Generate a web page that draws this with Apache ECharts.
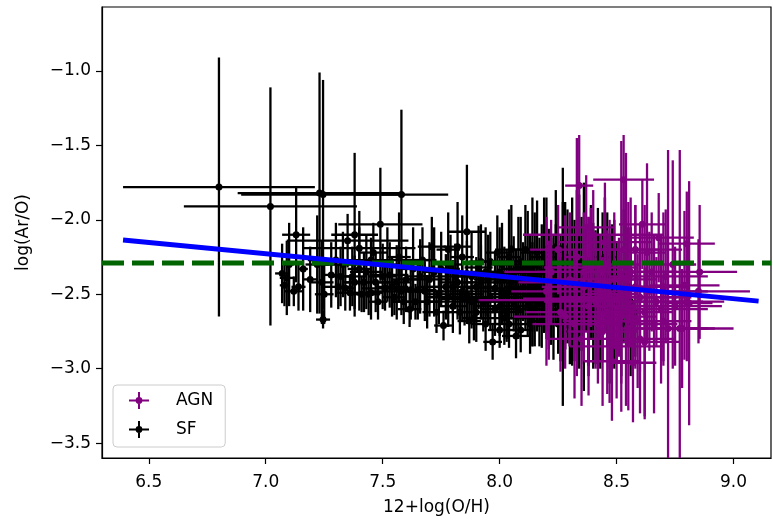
<!DOCTYPE html>
<html>
<head>
<meta charset="utf-8">
<script src="https://cdn.jsdelivr.net/npm/echarts@6/dist/echarts.min.js"></script>
<style>html,body{margin:0;padding:0;background:#fff}#c{width:773px;height:520px}</style>
</head>
<body>
<div id="c"></div>
<script>
// [x, y, xerr, yerr]
const sfData = [
[6.80,-1.78,0.41,0.87],[7.02,-1.91,0.37,0.80],[7.23,-1.82,0.35,0.81],[7.245,-1.83,0.35,0.77],
[7.58,-1.83,0.20,0.57],[7.13,-2.10,0.06,0.32],[7.38,-2.10,0.10,0.55],[7.49,-2.03,0.18,0.38],
[7.86,-2.08,0.08,0.45],[7.245,-2.67,0.03,0.06],[7.35,-2.14,0.26,0.18],[7.40,-2.19,0.24,0.25],
[7.45,-2.27,0.27,0.15],
[7.07,-2.36,0.03,0.20],[7.08,-2.44,0.02,0.14],[7.09,-2.39,0.03,0.25],[7.10,-2.30,0.02,0.28],
[7.12,-2.48,0.04,0.10],[7.14,-2.45,0.03,0.16],[7.16,-2.33,0.02,0.28],[7.19,-2.40,0.03,0.22],
[7.22,-2.30,0.05,0.33],[7.24,-2.42,0.05,0.28],[7.25,-2.50,0.04,0.20],[7.28,-2.37,0.04,0.22],
[7.30,-2.27,0.10,0.25],[7.32,-2.38,0.05,0.20],[7.34,-2.46,0.04,0.15],[7.36,-2.49,0.06,0.12],
[7.38,-2.42,0.05,0.18],[7.40,-2.33,0.05,0.28],[7.42,-2.42,0.08,0.20],[7.44,-2.50,0.05,0.14],
[7.45,-2.49,0.05,0.18],[7.46,-2.22,0.06,0.20],[7.48,-2.55,0.04,0.12],[7.50,-2.38,0.06,0.22],
[7.51,-2.46,0.10,0.15],[7.52,-2.30,0.05,0.25],[7.54,-2.45,0.07,0.20],[7.55,-2.52,0.05,0.12],
[7.57,-2.25,0.05,0.30],[7.58,-2.48,0.12,0.16],[7.60,-2.40,0.06,0.22],[7.615,-2.60,0.05,0.12],
[7.63,-2.33,0.05,0.28],[7.64,-2.55,0.10,0.12],[7.65,-2.47,0.08,0.20],[7.67,-2.27,0.06,0.22],
[7.69,-2.55,0.05,0.18],[7.70,-2.40,0.09,0.25],[7.72,-2.35,0.05,0.30],[7.73,-2.62,0.06,0.14],
[7.74,-2.50,0.06,0.20],[7.76,-2.71,0.04,0.10],[7.77,-2.45,0.07,0.22],[7.78,-2.20,0.05,0.25],
[7.79,-2.30,0.05,0.20],[7.80,-2.58,0.06,0.18],[7.81,-2.38,0.12,0.22],[7.82,-2.42,0.08,0.25],
[7.83,-2.62,0.05,0.15],[7.84,-2.25,0.05,0.28],[7.85,-2.53,0.10,0.18],[7.86,-2.50,0.07,0.20],
[7.87,-2.68,0.05,0.15],[7.88,-2.38,0.06,0.30],[7.89,-2.66,0.05,0.15],[7.90,-2.45,0.09,0.20],
[7.91,-2.32,0.06,0.28],[7.92,-2.28,0.05,0.25],[7.93,-2.55,0.07,0.20],[7.94,-2.70,0.06,0.18],
[7.95,-2.40,0.06,0.30],[7.96,-2.52,0.08,0.22],[7.97,-2.82,0.04,0.12],[7.98,-2.60,0.06,0.18],
[7.99,-2.22,0.05,0.25],[8.00,-2.74,0.05,0.12],[8.00,-2.35,0.08,0.30],[8.01,-2.48,0.06,0.22],
[8.02,-2.66,0.10,0.18],[8.03,-2.62,0.07,0.20],[8.04,-2.25,0.05,0.32],[8.05,-2.42,0.08,0.25],
[8.06,-2.55,0.06,0.20],[8.07,-2.78,0.06,0.15],[8.08,-2.33,0.07,0.35],[8.09,-2.74,0.05,0.15],
[8.10,-2.46,0.08,0.22],[8.11,-2.20,0.06,0.30],[8.12,-2.58,0.07,0.20],[8.13,-2.38,0.05,0.28],
[8.14,-2.65,0.06,0.20],[8.14,-2.35,0.05,0.50],[8.15,-2.30,0.08,0.35],[8.16,-2.50,0.06,0.25],
[8.17,-2.42,0.10,0.30],[8.18,-2.68,0.05,0.18],[8.19,-2.25,0.06,0.40],[8.20,-2.55,0.07,0.25],
[8.21,-2.36,0.05,0.30],[8.22,-2.62,0.06,0.22],[8.23,-2.45,0.08,0.35],[8.24,-2.18,0.05,0.38],
[8.25,-2.70,0.06,0.20],[8.26,-2.40,0.07,0.30],[8.27,-2.45,0.05,0.80],[8.28,-2.30,0.06,0.42],
[8.29,-2.48,0.08,0.25],[8.30,-2.62,0.05,0.35],[8.31,-2.35,0.06,0.50],[8.32,-2.75,0.04,0.20],
[8.33,-2.50,0.07,0.40],[8.34,-2.28,0.05,0.45],[8.35,-2.58,0.06,0.30],[8.36,-2.45,0.05,0.70],
[8.37,-2.40,0.08,0.35],[8.38,-2.65,0.05,0.40],[8.40,-2.32,0.06,0.30],[8.41,-2.52,0.07,0.45],
[8.42,-2.70,0.05,0.30],[8.44,-2.45,0.06,0.50],[8.45,-2.25,0.05,0.40],[8.47,-2.60,0.06,0.50],
[8.48,-2.38,0.05,0.35],[8.50,-2.55,0.06,0.40],[8.52,-2.70,0.05,0.35],[8.55,-2.45,0.06,0.40],
[8.58,-2.62,0.05,0.30],
[7.71,-2.18,0.06,0.20],[7.75,-2.33,0.08,0.25],[7.78,-2.52,0.10,0.20],[7.80,-2.45,0.15,0.18],
[7.82,-2.18,0.06,0.30],[7.84,-2.48,0.12,0.20],[7.86,-2.36,0.08,0.22],[7.88,-2.55,0.14,0.18],
[7.90,-2.62,0.08,0.20],[7.92,-2.42,0.10,0.25],[7.94,-2.35,0.07,0.30],[7.96,-2.28,0.06,0.20],
[7.98,-2.46,0.12,0.24],[8.00,-2.58,0.10,0.20],[8.01,-2.30,0.06,0.28],[8.02,-2.40,0.12,0.22],
[8.03,-2.50,0.08,0.30],[8.04,-2.70,0.06,0.16],[8.05,-2.20,0.07,0.30],[8.06,-2.36,0.10,0.25],
[8.07,-2.48,0.06,0.28],[8.08,-2.60,0.10,0.20],[8.09,-2.28,0.08,0.30],[8.10,-2.40,0.12,0.25],
[8.11,-2.52,0.07,0.22],[8.12,-2.32,0.06,0.38],[8.13,-2.70,0.08,0.20],[8.14,-2.45,0.12,0.30],
[8.15,-2.60,0.06,0.25],[8.16,-2.22,0.07,0.35],[8.17,-2.55,0.08,0.30],[8.18,-2.35,0.10,0.32],
[8.19,-2.48,0.06,0.28],[8.20,-2.30,0.08,0.45],[8.21,-2.62,0.10,0.25],[8.22,-2.42,0.06,0.30],
[8.23,-2.56,0.07,0.38],[8.24,-2.36,0.10,0.33],[8.25,-2.50,0.08,0.30],[8.26,-2.60,0.06,0.35],
[8.27,-2.28,0.08,0.40],[8.28,-2.52,0.10,0.35],[8.29,-2.38,0.06,0.45],[8.30,-2.45,0.08,0.40],
[8.31,-2.68,0.06,0.30],[8.32,-2.40,0.10,0.40],[8.33,-2.30,0.06,0.50],[8.34,-2.55,0.08,0.45],
[8.35,-2.38,0.06,0.40],[8.36,-2.62,0.07,0.35],[8.38,-2.48,0.06,0.50],[8.39,-2.35,0.08,0.45],
[8.40,-2.60,0.06,0.40],[8.42,-2.42,0.07,0.50],[8.43,-2.55,0.06,0.45],[8.46,-2.40,0.06,0.45],
[8.49,-2.50,0.05,0.50],[8.53,-2.38,0.06,0.45],[8.56,-2.55,0.05,0.50],
[7.31,-2.45,0.06,0.15],[7.33,-2.30,0.08,0.22],[7.37,-2.38,0.06,0.20],[7.41,-2.50,0.05,0.12],
[7.43,-2.35,0.07,0.25],[7.47,-2.42,0.06,0.20],[7.53,-2.37,0.08,0.22],[7.56,-2.42,0.06,0.25],
[7.59,-2.55,0.05,0.15],[7.62,-2.47,0.07,0.20],[7.66,-2.38,0.06,0.25],[7.68,-2.48,0.08,0.20]
];
const agnData = [
[8.34,-1.77,0.06,0.34],[8.53,-1.73,0.13,0.30],[8.33,-2.25,0.05,0.80],[8.52,-2.38,0.05,0.91],
[8.54,-2.40,0.04,0.85],[8.61,-2.03,0.10,0.30],[8.37,-2.05,0.12,0.35],[8.40,-2.10,0.30,0.30],
[8.68,-2.12,0.15,0.30],[8.80,-2.16,0.12,0.35],[8.855,-2.35,0.16,0.45],[8.21,-2.54,0.30,0.40],
[8.72,-2.73,0.20,1.20],[8.77,-2.73,0.12,1.20],[8.57,-2.96,0.10,0.40],[8.79,-2.44,0.15,0.50],
[8.81,-2.56,0.10,0.82],[8.85,-2.48,0.22,0.35],[8.80,-2.55,0.16,0.40],[8.78,-2.73,0.22,0.40],
[8.70,-2.68,0.12,0.30],[8.30,-2.53,0.20,0.30],[8.28,-2.65,0.22,0.35],[8.45,-2.30,0.15,0.45],
[8.47,-2.50,0.12,0.50],[8.42,-2.70,0.10,0.40],[8.58,-2.45,0.15,0.55],[8.62,-2.62,0.12,0.72],
[8.65,-2.35,0.10,0.40],[8.60,-2.80,0.15,0.50],[8.50,-2.85,0.20,0.35],[8.45,-2.15,0.20,0.40],
[8.30,-2.40,0.15,0.45],[8.25,-2.20,0.12,0.30],[8.20,-2.48,0.15,0.50],[8.38,-2.58,0.10,0.60],
[8.55,-2.58,0.10,0.70],[8.63,-2.22,0.08,0.60],[8.66,-2.70,0.10,0.60],[8.70,-2.45,0.10,0.50],
[8.74,-2.30,0.10,0.70],[8.48,-2.95,0.12,0.40],[8.35,-2.80,0.15,0.45],[8.43,-2.45,0.25,0.35],
[8.58,-2.20,0.20,0.30],[8.67,-2.55,0.20,0.30],[8.36,-2.35,0.20,0.30],[8.52,-2.65,0.15,0.45],
[8.46,-2.62,0.10,0.55],
[8.22,-2.35,0.20,0.35],[8.26,-2.62,0.15,0.40],[8.32,-2.70,0.18,0.50],[8.39,-2.32,0.20,0.40],
[8.41,-2.55,0.22,0.45],[8.44,-2.75,0.15,0.50],[8.49,-2.40,0.18,0.45],[8.51,-2.52,0.25,0.40],
[8.56,-2.35,0.20,0.50],[8.59,-2.68,0.18,0.45],[8.64,-2.48,0.25,0.40],[8.69,-2.60,0.20,0.50],
[8.71,-2.38,0.18,0.45],[8.75,-2.58,0.20,0.40],[8.62,-2.82,0.15,0.50],[8.53,-2.20,0.15,0.45],
[8.47,-2.68,0.20,0.55],[8.36,-2.45,0.15,0.50],[8.28,-2.42,0.20,0.45],[8.60,-2.52,0.22,0.50]
];
const fitLine = [[6.39,-2.136],[9.107,-2.546]];
const refLevel = -2.29;
const xTicks = [6.5,7.0,7.5,8.0,8.5,9.0];
const yTicks = [-3.5,-3.0,-2.5,-2.0,-1.5,-1.0];
const xRange = [6.3,9.16];
const yRange = [-3.6,-0.57];

function errRender(color){
  return function(params, api){
    const cs = params.coordSys;
    const x0 = cs.x, x1 = cs.x + cs.width, y0 = cs.y, y1 = cs.y + cs.height;
    const cl = (v,a,b)=>Math.max(a,Math.min(b,v));
    const x = api.value(0), y = api.value(1), xe = api.value(2), ye = api.value(3);
    const c = api.coord([x,y]);
    const l = api.coord([x-xe,y]), r = api.coord([x+xe,y]);
    const t = api.coord([x,y+ye]), b = api.coord([x,y-ye]);
    const st = {stroke:color, lineWidth:2.3};
    return {type:'group', children:[
      {type:'line', shape:{x1:cl(l[0],x0,x1),y1:c[1],x2:cl(r[0],x0,x1),y2:c[1]}, style:st},
      {type:'line', shape:{x1:c[0],y1:cl(t[1],y0,y1),x2:c[0],y2:cl(b[1],y0,y1)}, style:st},
      {type:'circle', shape:{cx:c[0],cy:c[1],r:3.5}, style:{fill:color}}
    ]};
  };
}
const FONT = 'DejaVu Sans';
const minus = v => (v<0?'\u2212':'') + Math.abs(v).toFixed(1);
const iconPath = 'path://M0,7.5h20v2H0z M9,0h2v17H9z M6.6,8.5a3.4,3.4 0 1,1 6.8,0a3.4,3.4 0 1,1 -6.8,0z';

const chart = echarts.init(document.getElementById('c'), null, {renderer:'canvas'});
chart.setOption({
  animation:false,
  grid:{left:102, right:2, top:7, bottom:62, outerBoundsMode:'none', containLabel:false,
        show:true, borderColor:'#000', borderWidth:1.2, backgroundColor:'transparent'},
  legend:{
    orient:'vertical', left:113, top:385,
    data:[{name:'AGN', icon:iconPath},{name:'SF', icon:iconPath}],
    itemWidth:20, itemHeight:17, itemGap:12,
    padding:[7,12,9,16],
    borderColor:'#cccccc', borderWidth:1, borderRadius:4,
    backgroundColor:'rgba(255,255,255,0.8)',
    textStyle:{fontFamily:FONT, fontSize:17, color:'#000', padding:[0,0,0,22]},
    selectedMode:false
  },
  xAxis:{
    type:'value', min:xRange[0], max:xRange[1],
    name:'12+log(O/H)', nameLocation:'middle', nameGap:41,
    nameTextStyle:{fontFamily:FONT, fontSize:17, color:'#000'},
    axisLine:{show:true, onZero:false, lineStyle:{color:'#000', width:1.2}},
    axisTick:{show:true, length:6, customValues:xTicks, lineStyle:{color:'#000', width:1.2}},
    axisLabel:{customValues:xTicks, formatter:v=>minus(v), fontFamily:FONT, fontSize:17, color:'#000', margin:16},
    splitLine:{show:false}
  },
  yAxis:{
    type:'value', min:yRange[0], max:yRange[1],
    name:'log(Ar/O)', nameLocation:'middle', nameGap:70,
    nameTextStyle:{fontFamily:FONT, fontSize:17, color:'#000'},
    axisLine:{show:true, onZero:false, lineStyle:{color:'#000', width:1.2}},
    axisTick:{show:true, length:6, customValues:yTicks, lineStyle:{color:'#000', width:1.2}},
    axisLabel:{customValues:yTicks, formatter:v=>minus(v), fontFamily:FONT, fontSize:17, color:'#000', margin:11},
    splitLine:{show:false}
  },
  series:[
    {name:'SF', type:'custom', data:sfData, renderItem:errRender('#000000'), itemStyle:{color:'#000000'}, encode:{x:0,y:1}, z:2, silent:true},
    {name:'AGN', type:'custom', data:agnData, renderItem:errRender('#800080'), itemStyle:{color:'#800080'}, encode:{x:0,y:1}, z:3, silent:true},
    {name:'ref', type:'line', data:[[xRange[0],refLevel],[xRange[1],refLevel]], showSymbol:false, symbol:'none', silent:true,
     lineStyle:{color:'#006400', width:5, type:[22,8]}, z:4},
    {name:'fit', type:'line', data:fitLine, showSymbol:false, symbol:'none', silent:true,
     lineStyle:{color:'#0000ff', width:5}, z:5}
  ]
});
</script>
</body>
</html>
